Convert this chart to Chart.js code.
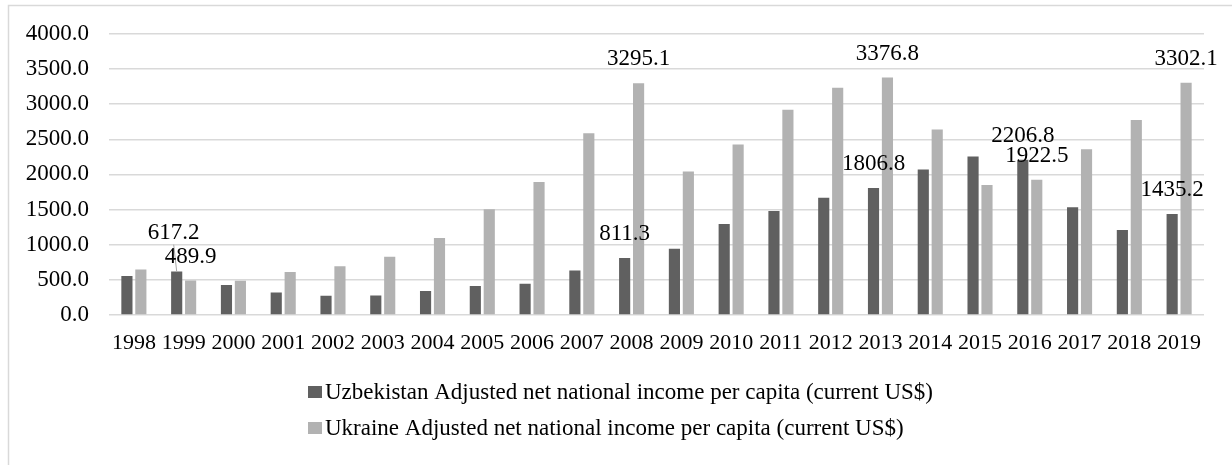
<!DOCTYPE html>
<html>
<head>
<meta charset="utf-8">
<script src="https://cdn.jsdelivr.net/npm/chart.js@4/dist/chart.umd.min.js"></script>
<style>
  html, body { margin: 0; padding: 0; background: #fff; }
  #wrap { position: relative; width: 1232px; height: 465px; }
</style>
</head>
<body>
<div id="wrap"><canvas id="chart" width="1232" height="465"></canvas></div>
<script>
const years = ["1998","1999","2000","2001","2002","2003","2004","2005","2006","2007","2008","2009","2010","2011","2012","2013","2014","2015","2016","2017","2018","2019"];
const uzbekistan = [553, 617.2, 425, 321, 274, 279, 340, 411, 444, 633, 811.3, 941, 1295, 1479, 1669, 1806.8, 2070, 2255, 2206.8, 1531, 1210, 1435.2];
const ukraine = [648, 489.9, 487, 610, 695, 827, 1096, 1503, 1891, 2586, 3295.1, 2042, 2425, 2921, 3233, 3376.8, 2637, 1848, 1922.5, 2358, 2775, 3302.1];
const labelledYears = ["1999", "2008", "2013", "2016", "2019"];
const seriesNames = [
  "Uzbekistan Adjusted net national income per capita (current US$)",
  "Ukraine Adjusted net national income per capita (current US$)"
];
const yTicks = [0, 500, 1000, 1500, 2000, 2500, 3000, 3500, 4000];

const FONT = "'Liberation Serif', 'Times New Roman', serif";
const GRID = "#d9d9d9";

// frame: only the left and top edges show in the picture
const framePlugin = {
  id: "frame",
  beforeDraw(chart) {
    const ctx = chart.ctx;
    ctx.save();
    ctx.strokeStyle = GRID;
    ctx.lineWidth = 1.5;
    ctx.beginPath();
    ctx.moveTo(8.5, 465);
    ctx.lineTo(8.5, 5.5);
    ctx.lineTo(1232, 5.5);
    ctx.stroke();
    ctx.restore();
  }
};

// value labels above the bars of the labelled years
const valueLabels = {
  id: "valueLabels",
  afterDatasetsDraw(chart, args, opts) {
    const ctx = chart.ctx;
    ctx.save();
    ctx.font = "23px " + FONT;
    ctx.fillStyle = "#000";
    ctx.textAlign = "center";
    ctx.textBaseline = "middle";
    chart.data.datasets.forEach((ds, di) => {
      const meta = chart.getDatasetMeta(di);
      meta.data.forEach((bar, i) => {
        if (!labelledYears.includes(chart.data.labels[i])) return;
        const special = opts.special.find((s) => s.ds === di && s.i === i);
        const lift = special ? special.lift : opts.lift;
        const dx = special ? special.dx : 0;
        const x = bar.x + dx, y = bar.y - lift;
        if (special && special.leader) {
          ctx.strokeStyle = "#a6a6a6";
          ctx.lineWidth = 1;
          ctx.beginPath();
          ctx.moveTo(x, y + 12);
          ctx.lineTo(bar.x, bar.y);
          ctx.stroke();
        }
        ctx.fillText(ds.data[i].toFixed(1), x, y);
      });
    });
    ctx.restore();
  }
};

// stacked legend under the axis
const stackedLegend = {
  id: "stackedLegend",
  afterDraw(chart, args, opts) {
    const ctx = chart.ctx;
    ctx.save();
    ctx.font = "23px " + FONT;
    ctx.textBaseline = "middle";
    ctx.textAlign = "left";
    chart.data.datasets.forEach((ds, di) => {
      const y = opts.top + di * opts.rowGap;
      ctx.fillStyle = ds.backgroundColor;
      ctx.fillRect(opts.left, y - 6, 14, 12);
      ctx.fillStyle = "#000";
      ctx.fillText(ds.label, opts.left + 17, y + 1);
    });
    ctx.restore();
  }
};

new Chart(document.getElementById("chart"), {
  type: "bar",
  data: {
    labels: years,
    datasets: [
      { label: seriesNames[0], data: uzbekistan, backgroundColor: "#606060", categoryPercentage: 0.56, barPercentage: 0.8 },
      { label: seriesNames[1], data: ukraine, backgroundColor: "#b2b2b2", categoryPercentage: 0.56, barPercentage: 0.8 }
    ]
  },
  options: {
    responsive: false,
    animation: false,
    layout: { padding: { left: 0, right: 28, top: 33, bottom: 100 } },
    plugins: {
      legend: { display: false },
      tooltip: { enabled: false },
      valueLabels: { lift: 24, special: [{ ds: 0, i: 1, lift: 39, dx: -3, leader: true }] },
      stackedLegend: { left: 308, top: 392, rowGap: 36 }
    },
    scales: {
      x: {
        grid: { display: false, drawTicks: false },
        border: { display: false },
        ticks: { color: "#000", font: { family: FONT, size: 22 }, padding: 15, maxRotation: 0, autoSkip: false },
        afterFit: (s) => { s.height = 50; }
      },
      y: {
        min: 0,
        max: 4000,
        afterBuildTicks: (s) => { s.ticks = yTicks.map((v) => ({ value: v })); },
        grid: { color: GRID, lineWidth: 1.5, drawTicks: false },
        border: { display: false },
        ticks: { color: "#000", font: { family: FONT, size: 23 }, padding: 20, callback: (v) => Number(v).toFixed(1) },
        afterFit: (s) => { s.width = 109; }
      }
    }
  },
  plugins: [framePlugin, valueLabels, stackedLegend]
});
</script>
</body>
</html>
